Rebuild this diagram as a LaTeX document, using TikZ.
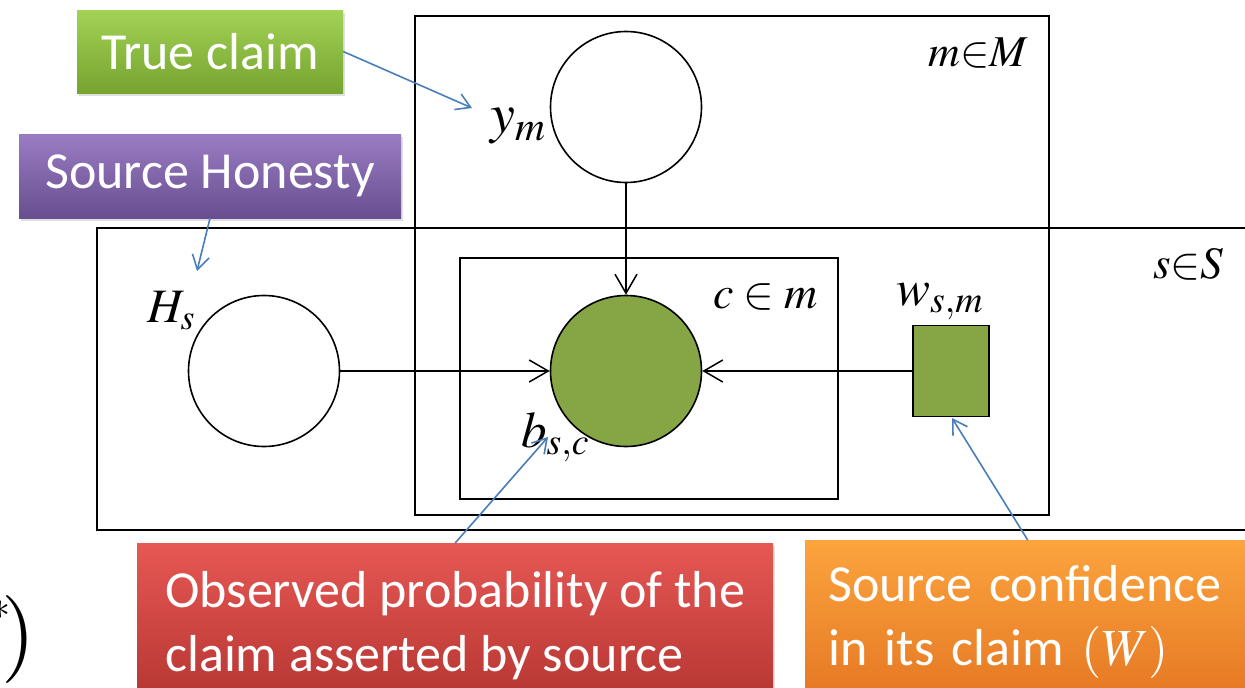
\documentclass[tikz,border=0pt]{standalone}
\usepackage{mathptmx}
\usepackage[no-math]{fontspec}
\setmainfont{Carlito}
\usetikzlibrary{arrows.meta,shadows}

\definecolor{obsgreen}{RGB}{134,166,69}
\definecolor{callblue}{RGB}{74,126,187}
\definecolor{truetop}{RGB}{162,210,86}
\definecolor{truebot}{RGB}{118,164,48}
\definecolor{hontop}{RGB}{154,124,194}
\definecolor{honbot}{RGB}{104,78,144}
\definecolor{obstop}{RGB}{230,88,84}
\definecolor{obsbot}{RGB}{180,52,48}
\definecolor{conftop}{RGB}{252,164,62}
\definecolor{confbot}{RGB}{228,118,34}

\begin{document}
\begin{tikzpicture}[x=1pt,y=-1pt]
	\tikzstyle{plate}=[line width=2pt]
	\tikzstyle{var}=[circle,draw,line width=1.6pt,minimum size=151pt,inner sep=0pt]
	\tikzstyle{edge}=[line width=1.5pt,-{Straight Barb[length=19pt,width=22pt]}]
	\tikzstyle{callout}=[callblue,line width=1.6pt,-{Straight Barb[length=14pt,width=17pt]}]
	\tikzstyle{lbl}=[inner sep=0pt]
	\tikzstyle{tag}=[text=white,inner sep=0pt,drop shadow={opacity=0.25,shadow xshift=2pt,shadow yshift=-3pt},font=\fontsize{52}{64}\selectfont]

	\clip (0,0) rectangle (1245,688);
	\fill[white] (0,0) rectangle (1245,688);

	% plates
	\draw[plate] (415,16) rectangle (1049,515);
	\draw[plate] (97,228) rectangle (1270,530);
	\draw[plate] (460,258) rectangle (838,499);

	\node[var] (y) at (626,107) {};
	\node[var,fill=obsgreen] (b) at (626,371) {};
	\node[var] (H) at (264,371) {};
	\node[draw,line width=1.6pt,fill=obsgreen,minimum width=76pt,minimum height=91pt,inner sep=0pt] (w) at (951,371) {};

	\draw[edge] (y) -- (b);
	\draw[edge] (H) -- (b);
	\draw[edge] (w) -- (b);

	\node[lbl,anchor=base west,font=\fontsize{56}{56}\selectfont] (ylab) at (490,132) {$y_m$};
	\node[lbl,anchor=base west,font=\fontsize{48}{48}\selectfont] (Hlab) at (147,322) {$H_s$};
	\node[lbl,anchor=base west,font=\fontsize{51}{51}\selectfont] (blab) at (521,447) {$b_{s,c}$};
	\node[lbl,anchor=base west,font=\fontsize{51}{51}\selectfont] (wlab) at (896,305) {$w_{s,m}$};
	\node[lbl,anchor=base east,font=\fontsize{44}{44}\selectfont] (Mlab) at (1028,66) {$m{\in}M$};
	\node[lbl,anchor=base east,font=\fontsize{45}{45}\selectfont] (Slab) at (1224,278) {$s{\in}S$};
	\node[lbl,anchor=base east,font=\fontsize{46}{46}\selectfont] (clab) at (818,308) {$c\in m$};
	\node[lbl,anchor=base east] (frag) at (36,661) {\raisebox{42pt}{\fontsize{40}{40}\selectfont$*$}\kern-9pt\fontsize{88}{88}\selectfont$)$};

	% callouts
	\node[tag,top color=truetop,bottom color=truebot,minimum width=266pt,minimum height=83pt] (truec) at (210,51.5) {True claim};
	\node[tag,top color=hontop,bottom color=honbot,minimum width=382pt,minimum height=84pt] (honest) at (210,176) {Source Honesty};
	\node[tag,top color=obstop,bottom color=obsbot,anchor=north west,minimum width=636pt,minimum height=164pt,align=left] (observed) at (137,543) {Observed probability of the\\claim asserted by source};
	\node[tag,top color=conftop,bottom color=confbot,anchor=north west,minimum width=445pt,minimum height=164pt,text width=399pt,inner xsep=23pt,align=left] (confid) at (805,540) {Source confidence\\in its claim $(W)$};

	\coordinate (ytip) at (472,108);
	\coordinate (htip) at (197,271);
	\coordinate (btip) at (548,437);
	\coordinate (wtip) at (952,418);
	\draw[callout] (truec.east) -- (ytip);
	\draw[callout] (honest.south) -- (htip);
	\draw[callout] (observed.north) -- (btip);
	\draw[callout] (confid.north) -- (wtip);
\end{tikzpicture}
\end{document}
